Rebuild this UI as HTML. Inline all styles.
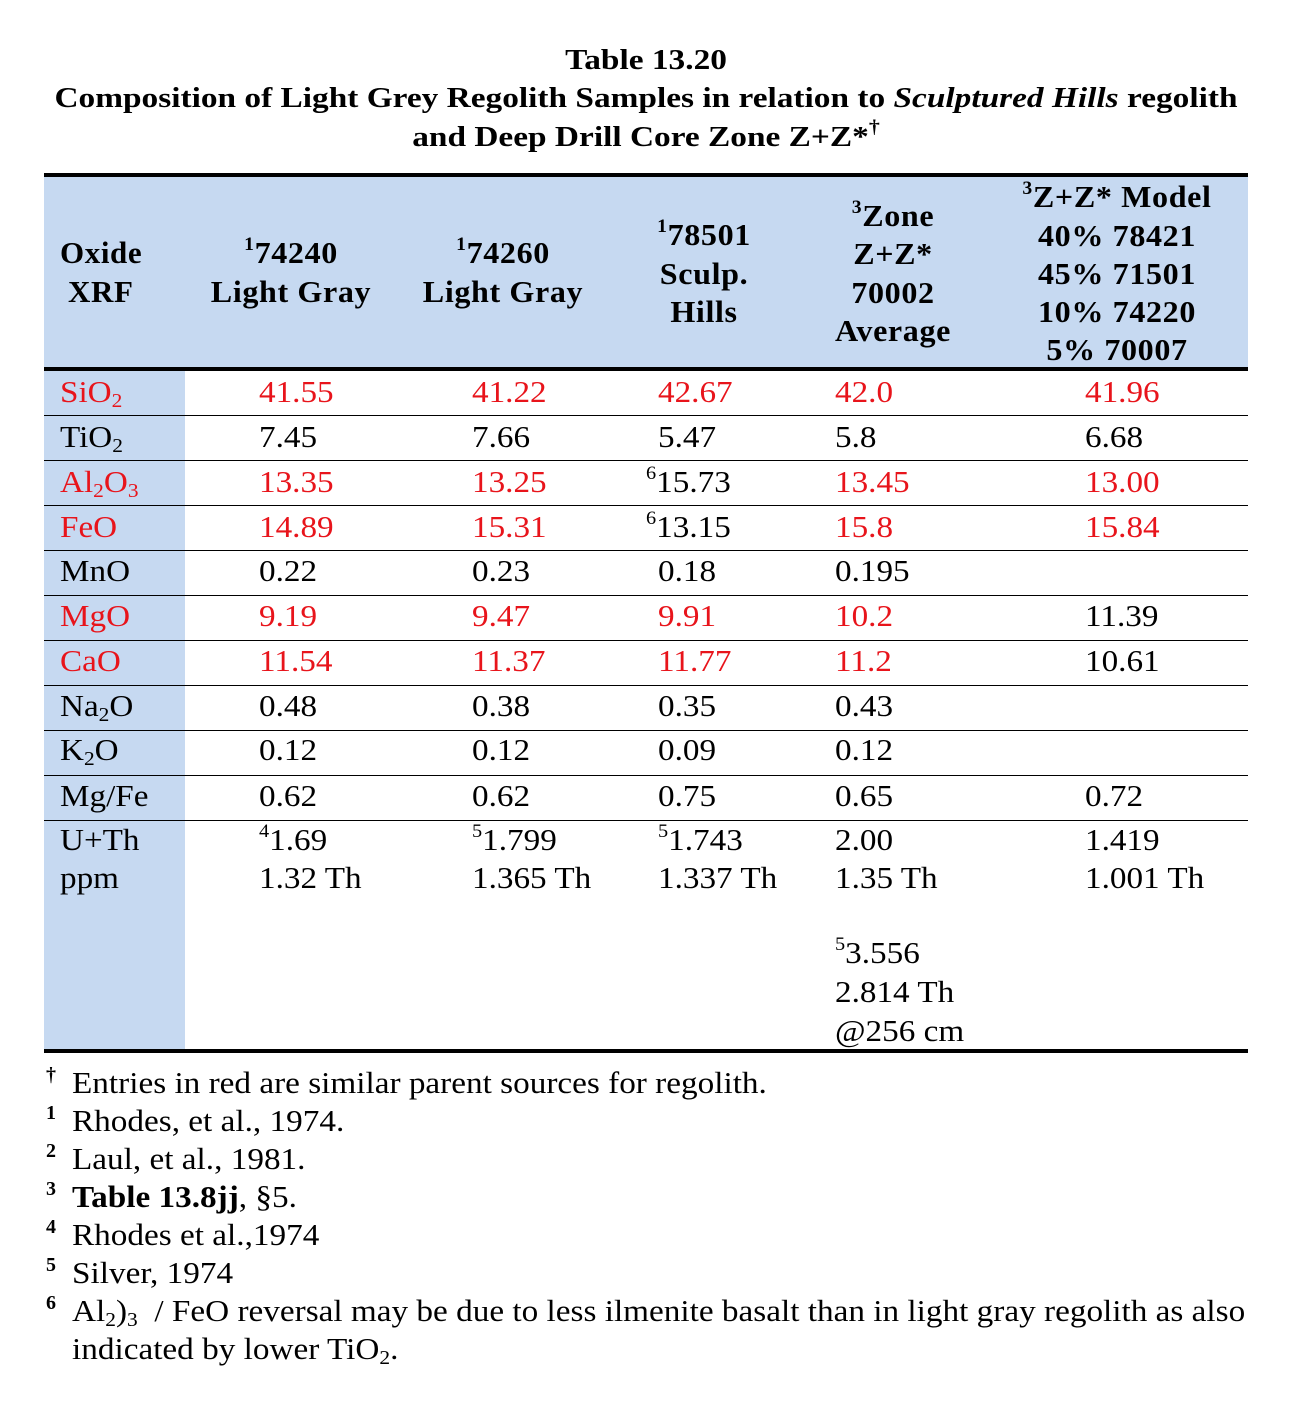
<!DOCTYPE html>
<html><head><meta charset="utf-8"><style>
body{margin:0;background:#fff;}
#p{position:relative;width:1295px;height:1401px;overflow:hidden;font-family:"Liberation Serif","Times New Roman",Times,"DejaVu Serif",serif;color:#000;}
.t{position:absolute;white-space:nowrap;font-size:31px;line-height:30px;transform-origin:0 50%;transform:scaleX(1.07);}
.b{font-weight:bold;}
.c{transform-origin:50% 50%;transform:translateX(-50%) scaleX(1.035);}
.ti{transform-origin:50% 50%;transform:translateX(-50%) scaleX(1.15);font-size:29px;font-weight:bold;}
.fn{transform:scaleX(1.072);}
.r{color:#e8141b;}
.h{position:absolute;left:44px;width:1204px;background:#000;}
sup{font-size:19px;line-height:0;position:relative;top:-2px;vertical-align:super;}
sub{font-size:20px;line-height:0;vertical-align:-5px;}
.hd{font-weight:bold;letter-spacing:0.6px;}
.m{font-size:20px;font-weight:bold;transform:none;}
</style></head><body><div id="p">
<div class="t ti" style="left:646px;top:45px">Table 13.20</div>
<div class="t ti" style="left:646px;top:83px">Composition of Light Grey Regolith Samples in relation to <i>Sculptured Hills</i> regolith</div>
<div class="t ti" style="left:646px;top:122px">and Deep Drill Core Zone Z+Z*<sup>†</sup></div>

<div style="position:absolute;left:44px;top:174px;width:1204px;height:195px;background:#c6d9f1"></div>
<div style="position:absolute;left:44px;top:369px;width:141px;height:682px;background:#c6d9f1"></div>
<div class="h" style="top:173px;height:4px"></div>
<div class="h" style="top:367px;height:4px"></div>
<div class="h" style="top:1049px;height:4px"></div>
<div class="h" style="top:415px;height:1px"></div>
<div class="h" style="top:460px;height:1px"></div>
<div class="h" style="top:505px;height:1px"></div>
<div class="h" style="top:550px;height:1px"></div>
<div class="h" style="top:595px;height:1px"></div>
<div class="h" style="top:640px;height:1px"></div>
<div class="h" style="top:685px;height:1px"></div>
<div class="h" style="top:730px;height:1px"></div>
<div class="h" style="top:775px;height:1px"></div>
<div class="h" style="top:820px;height:1px"></div>

<div class="t hd" style="left:60px;top:238px;transform:none">Oxide</div>
<div class="t hd" style="left:68px;top:277px;transform:none">XRF</div>
<div class="t hd c" style="left:291px;top:238px"><sup>1</sup>74240</div>
<div class="t hd c" style="left:291px;top:277px">Light Gray</div>
<div class="t hd c" style="left:503px;top:238px"><sup>1</sup>74260</div>
<div class="t hd c" style="left:503px;top:277px">Light Gray</div>
<div class="t hd c" style="left:704px;top:220px"><sup>1</sup>78501</div>
<div class="t hd c" style="left:704px;top:259px">Sculp.</div>
<div class="t hd c" style="left:704px;top:297px">Hills</div>
<div class="t hd c" style="left:893px;top:201px"><sup>3</sup>Zone</div>
<div class="t hd c" style="left:893px;top:239px">Z+Z*</div>
<div class="t hd c" style="left:893px;top:278px">70002</div>
<div class="t hd c" style="left:893px;top:316px">Average</div>
<div class="t hd c" style="left:1117px;top:182px"><sup>3</sup>Z+Z* Model</div>
<div class="t hd c" style="left:1117px;top:221px">40% 78421</div>
<div class="t hd c" style="left:1117px;top:259px">45% 71501</div>
<div class="t hd c" style="left:1117px;top:297px">10% 74220</div>
<div class="t hd c" style="left:1117px;top:335px">5% 70007</div>

<div class="t r" style="left:60px;top:377px">SiO<sub>2</sub></div><div class="t r" style="left:259px;top:377px">41.55</div><div class="t r" style="left:472px;top:377px">41.22</div><div class="t r" style="left:658px;top:377px">42.67</div><div class="t r" style="left:835px;top:377px">42.0</div><div class="t r" style="left:1085px;top:377px">41.96</div>
<div class="t" style="left:60px;top:422px">TiO<sub>2</sub></div><div class="t" style="left:259px;top:422px">7.45</div><div class="t" style="left:472px;top:422px">7.66</div><div class="t" style="left:658px;top:422px">5.47</div><div class="t" style="left:835px;top:422px">5.8</div><div class="t" style="left:1085px;top:422px">6.68</div>
<div class="t r" style="left:60px;top:467px">Al<sub>2</sub>O<sub>3</sub></div><div class="t r" style="left:259px;top:467px">13.35</div><div class="t r" style="left:472px;top:467px">13.25</div><div class="t" style="left:646px;top:467px"><sup>6</sup>15.73</div><div class="t r" style="left:835px;top:467px">13.45</div><div class="t r" style="left:1085px;top:467px">13.00</div>
<div class="t r" style="left:60px;top:512px">FeO</div><div class="t r" style="left:259px;top:512px">14.89</div><div class="t r" style="left:472px;top:512px">15.31</div><div class="t" style="left:646px;top:512px"><sup>6</sup>13.15</div><div class="t r" style="left:835px;top:512px">15.8</div><div class="t r" style="left:1085px;top:512px">15.84</div>
<div class="t" style="left:60px;top:556px">MnO</div><div class="t" style="left:259px;top:556px">0.22</div><div class="t" style="left:472px;top:556px">0.23</div><div class="t" style="left:658px;top:556px">0.18</div><div class="t" style="left:835px;top:556px">0.195</div>
<div class="t r" style="left:60px;top:601px">MgO</div><div class="t r" style="left:259px;top:601px">9.19</div><div class="t r" style="left:472px;top:601px">9.47</div><div class="t r" style="left:658px;top:601px">9.91</div><div class="t r" style="left:835px;top:601px">10.2</div><div class="t" style="left:1085px;top:601px">11.39</div>
<div class="t r" style="left:60px;top:646px">CaO</div><div class="t r" style="left:259px;top:646px">11.54</div><div class="t r" style="left:472px;top:646px">11.37</div><div class="t r" style="left:658px;top:646px">11.77</div><div class="t r" style="left:835px;top:646px">11.2</div><div class="t" style="left:1085px;top:646px">10.61</div>
<div class="t" style="left:60px;top:691px">Na<sub>2</sub>O</div><div class="t" style="left:259px;top:691px">0.48</div><div class="t" style="left:472px;top:691px">0.38</div><div class="t" style="left:658px;top:691px">0.35</div><div class="t" style="left:835px;top:691px">0.43</div>
<div class="t" style="left:60px;top:735px">K<sub>2</sub>O</div><div class="t" style="left:259px;top:735px">0.12</div><div class="t" style="left:472px;top:735px">0.12</div><div class="t" style="left:658px;top:735px">0.09</div><div class="t" style="left:835px;top:735px">0.12</div>
<div class="t" style="left:60px;top:781px">Mg/Fe</div><div class="t" style="left:259px;top:781px">0.62</div><div class="t" style="left:472px;top:781px">0.62</div><div class="t" style="left:658px;top:781px">0.75</div><div class="t" style="left:835px;top:781px">0.65</div><div class="t" style="left:1085px;top:781px">0.72</div>
<div class="t" style="left:60px;top:825px">U+Th</div><div class="t" style="left:60px;top:863px">ppm</div>
<div class="t" style="left:259px;top:825px"><sup>4</sup>1.69</div><div class="t" style="left:259px;top:863px">1.32 Th</div>
<div class="t" style="left:472px;top:825px"><sup>5</sup>1.799</div><div class="t" style="left:472px;top:863px">1.365 Th</div>
<div class="t" style="left:658px;top:825px"><sup>5</sup>1.743</div><div class="t" style="left:658px;top:863px">1.337 Th</div>
<div class="t" style="left:835px;top:825px">2.00</div><div class="t" style="left:835px;top:863px">1.35 Th</div>
<div class="t" style="left:835px;top:938px"><sup>5</sup>3.556</div><div class="t" style="left:835px;top:977px">2.814 Th</div><div class="t" style="left:835px;top:1016px">@256 cm</div>
<div class="t" style="left:1085px;top:825px">1.419</div><div class="t" style="left:1085px;top:863px">1.001 Th</div>

<div class="t m" style="left:46px;top:1060px">†</div><div class="t fn" style="left:72px;top:1068px">Entries in red are similar parent sources for regolith.</div>
<div class="t m" style="left:46px;top:1098px">1</div><div class="t fn" style="left:72px;top:1106px">Rhodes, et al., 1974.</div>
<div class="t m" style="left:46px;top:1136px">2</div><div class="t fn" style="left:72px;top:1144px">Laul, et al., 1981.</div>
<div class="t m" style="left:46px;top:1174px">3</div><div class="t fn" style="left:72px;top:1182px"><b>Table 13.8jj</b>, §5.</div>
<div class="t m" style="left:46px;top:1212px">4</div><div class="t fn" style="left:72px;top:1220px">Rhodes et al.,1974</div>
<div class="t m" style="left:46px;top:1250px">5</div><div class="t fn" style="left:72px;top:1258px">Silver, 1974</div>
<div class="t m" style="left:46px;top:1288px">6</div><div class="t fn" style="left:72px;top:1296px">Al<sub>2</sub>)<sub>3</sub>&nbsp; / FeO reversal may be due to less ilmenite basalt than in light gray regolith as also</div>
<div class="t fn" style="left:72px;top:1334px">indicated by lower TiO<sub>2</sub>.</div>
</div></body></html>
